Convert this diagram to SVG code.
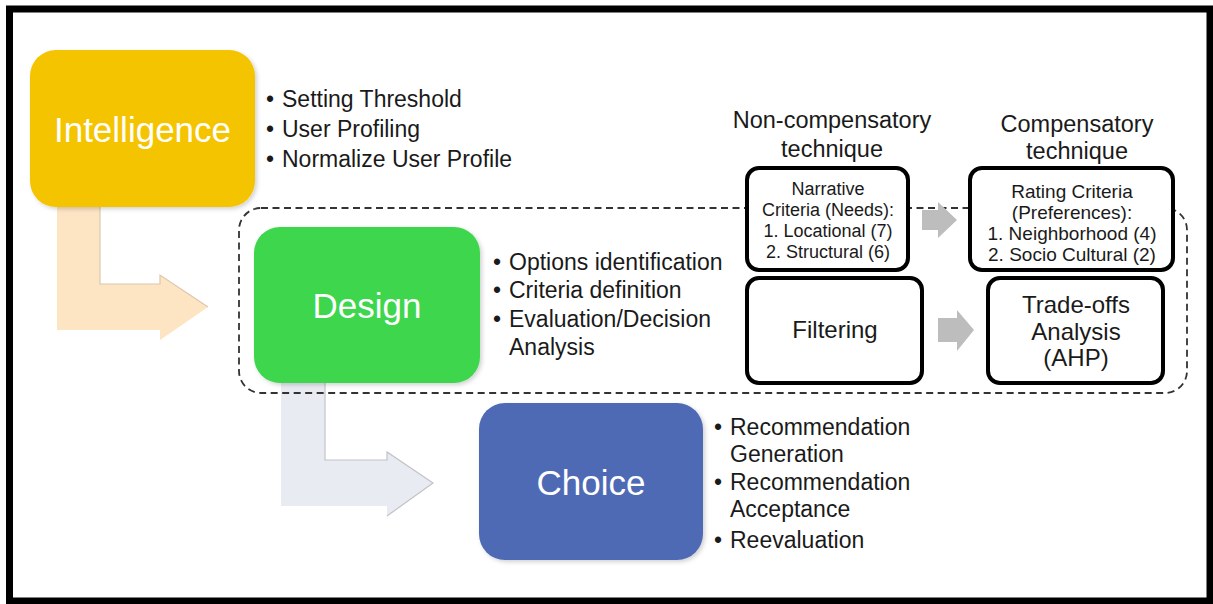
<svg xmlns="http://www.w3.org/2000/svg" width="1213" height="604" viewBox="0 0 1213 604">
  <defs>
    <filter id="soft" x="-10%" y="-10%" width="125%" height="125%">
      <feDropShadow dx="2" dy="2" stdDeviation="2" flood-color="#000" flood-opacity="0.18"/>
    </filter>
    <style>
      text { font-family: "Liberation Sans", Arial, sans-serif; fill: #1a1a1a; }
      .phase { fill: #ffffff; font-size: 35px; text-anchor: middle; }
      .bullet { font-size: 23px; }
      .head { font-size: 23.5px; text-anchor: middle; }
      .box { fill: #ffffff; stroke: #000000; stroke-width: 4; }
      .small { font-size: 18px; text-anchor: middle; }
      .mid { font-size: 19px; text-anchor: middle; }
      .big { font-size: 24px; text-anchor: middle; }
      .flow { fill: #bdbdbd; }
      .edge { fill: none; stroke-width: 1.2; }
    </style>
  </defs>

  <rect x="0" y="0" width="1213" height="604" fill="#ffffff"/>
  <!-- outer frame -->
  <rect x="9.5" y="9" width="1200.5" height="592" fill="none" stroke="#000" stroke-width="7"/>

  <!-- connectors: bent phase arrows and grey step arrows -->
  <g id="connectors">
    <path d="M57,200 L100,200 L100,284 L160,284 L160,275 L208,307 L160,340 L160,330 L57,330 Z" fill="#fde4c2"/>
    <path class="edge" d="M100,207 L100,284 L160,284 L160,275 L208,307" stroke="#dcc8aa"/>
    <path d="M281,375 L325,375 L325,460 L387,460 L387,452 L433,483 L387,516 L387,506 L281,506 Z" fill="#e9ebf3"/>
    <path class="edge" d="M325,383 L325,460 L387,460 L387,452 L433,483 L387,516" stroke="#c2c3c8"/>
  </g>

  <!-- dashed scope around the design phase -->
  <g id="design-scope">
    <rect x="239" y="208" width="948" height="185" rx="22" fill="none" stroke="#333" stroke-width="1.8" stroke-dasharray="7 4.5"/>
  </g>

  <g id="step-arrows">
    <path class="flow" d="M922,210 L938,210 L938,202 L957,220 L938,238 L938,230 L922,230 Z"/>
    <path class="flow" d="M938,318 L957,318 L957,310 L974,330 L957,351 L957,342 L938,342 Z"/>
  </g>

  <!-- Intelligence phase -->
  <g id="intelligence">
    <rect x="30" y="50" width="225" height="157" rx="26" fill="#f5c400" filter="url(#soft)"/>
    <text class="phase" x="142.5" y="142">Intelligence</text>
    <g class="bullet">
      <text x="266" y="107">•</text><text x="282" y="107">Setting Threshold</text>
      <text x="266" y="137">•</text><text x="282" y="137">User Profiling</text>
      <text x="266" y="167">•</text><text x="282" y="167">Normalize User Profile</text>
    </g>
  </g>

  <!-- Design phase -->
  <g id="design">
    <rect x="254" y="227" width="226" height="156" rx="26" fill="#3cd64e" filter="url(#soft)"/>
    <text class="phase" x="367" y="318">Design</text>
    <g class="bullet">
      <text x="493" y="270">•</text><text x="509" y="270">Options identification</text>
      <text x="493" y="298">•</text><text x="509" y="298">Criteria definition</text>
      <text x="493" y="327">•</text><text x="509" y="327">Evaluation/Decision</text>
      <text x="509" y="355">Analysis</text>
    </g>
  </g>

  <!-- Choice phase -->
  <g id="choice">
    <rect x="479" y="403" width="224" height="157" rx="26" fill="#4f6bb5" filter="url(#soft)"/>
    <text class="phase" x="591" y="495">Choice</text>
    <g class="bullet">
      <text x="714" y="435">•</text><text x="730" y="435">Recommendation</text>
      <text x="730" y="462">Generation</text>
      <text x="714" y="490">•</text><text x="730" y="490">Recommendation</text>
      <text x="730" y="517">Acceptance</text>
      <text x="714" y="548">•</text><text x="730" y="548">Reevaluation</text>
    </g>
  </g>

  <!-- technique headings -->
  <g id="non-compensatory-heading">
    <text class="head" x="832" y="128">Non-compensatory</text>
    <text class="head" x="832" y="157">technique</text>
  </g>
  <g id="compensatory-heading">
    <text class="head" x="1077" y="132">Compensatory</text>
    <text class="head" x="1077" y="159">technique</text>
  </g>

  <g id="narrative-criteria">
    <rect class="box" x="747" y="168" width="161" height="102" rx="12"/>
    <text class="small" x="828" y="195">Narrative</text>
    <text class="small" x="828" y="216">Criteria (Needs):</text>
    <text class="small" x="828" y="237">1. Locational (7)</text>
    <text class="small" x="828" y="258">2. Structural (6)</text>
  </g>

  <g id="rating-criteria">
    <rect class="box" x="970" y="168" width="203" height="102" rx="12"/>
    <text class="mid" x="1072" y="198">Rating Criteria</text>
    <text class="mid" x="1072" y="219">(Preferences):</text>
    <text class="mid" x="1072" y="240">1. Neighborhood (4)</text>
    <text class="mid" x="1072" y="261">2. Socio Cultural (2)</text>
  </g>

  <g id="filtering">
    <rect class="box" x="747" y="278" width="175" height="105" rx="12"/>
    <text class="big" x="835" y="338">Filtering</text>
  </g>

  <g id="trade-offs">
    <rect class="box" x="988" y="278" width="175" height="105" rx="12"/>
    <text class="big" x="1076" y="313">Trade-offs</text>
    <text class="big" x="1076" y="340">Analysis</text>
    <text class="big" x="1076" y="366">(AHP)</text>
  </g>
</svg>
